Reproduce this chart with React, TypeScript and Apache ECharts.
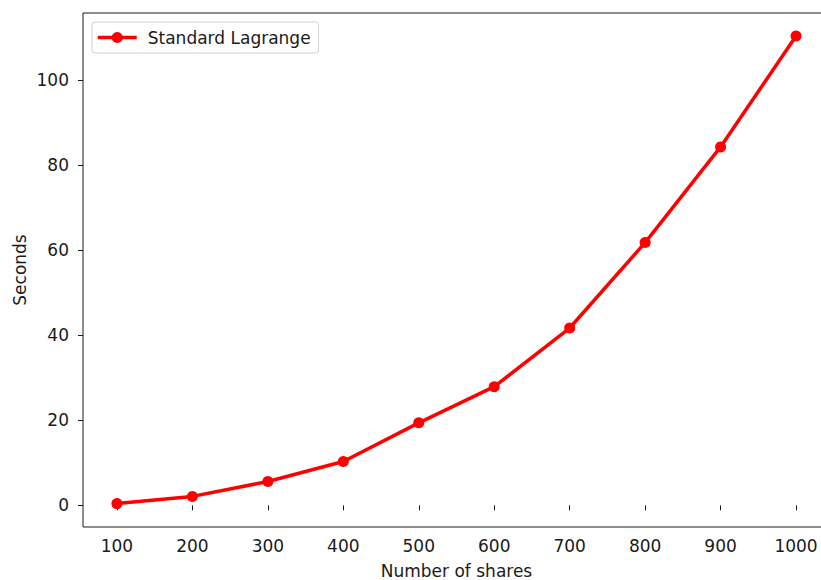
import React, { useEffect, useRef } from "react";
import * as echarts from "echarts";

const shares = [100, 200, 300, 400, 500, 600, 700, 800, 900, 1000];
const seconds = [0.4, 2.1, 5.6, 10.3, 19.4, 27.9, 41.7, 61.8, 84.3, 110.4];
const xTicks = [100, 200, 300, 400, 500, 600, 700, 800, 900, 1000];
const yTicks = [0, 20, 40, 60, 80, 100];
const seriesName = "Standard Lagrange";

const FONT = "DejaVu Sans";
const TXT = "#1a1a1a";

export default function App() {
  const ref = useRef<HTMLDivElement>(null);
  useEffect(() => {
    if (!ref.current) return;
    const chart = echarts.init(ref.current, undefined, { renderer: "svg" });
    chart.setOption({
      animation: false,
      backgroundColor: "#ffffff",
      textStyle: { fontFamily: FONT },
      grid: {
        left: 83,
        top: 13,
        right: 0,
        bottom: 53,
        outerBoundsMode: "none",
        containLabel: false,
        show: true,
        borderColor: "#1a1a1a",
        borderWidth: 1,
        backgroundColor: "transparent",
      },
      legend: {
        left: 92,
        top: 22,
        padding: [7, 8, 7, 4],
        backgroundColor: "#ffffff",
        borderColor: "#d0d0d0",
        borderWidth: 1,
        borderRadius: 3,
        itemWidth: 39,
        itemHeight: 14,
        lineStyle: { width: 3.5, color: "#ff0000" },
        textStyle: { fontFamily: FONT, fontSize: 17, color: TXT, padding: [0, 0, 0, 6] },
        data: [seriesName],
      },
      xAxis: {
        type: "value",
        min: 55,
        max: 1045,
        name: "Number of shares",
        nameLocation: "middle",
        nameGap: 35,
        nameMoveOverlap: false,
        nameTextStyle: { fontFamily: FONT, fontSize: 17, color: TXT },
        axisLine: { show: false },
        axisTick: {
          show: true,
          inside: false,
          length: 5,
          customValues: xTicks,
          lineStyle: { color: "#1a1a1a", width: 1 },
        },
        axisLabel: {
          customValues: xTicks,
          formatter: (v: number) => String(v),
          fontFamily: FONT,
          fontSize: 17,
          color: TXT,
          margin: 10,
        },
        splitLine: { show: false },
      },
      yAxis: {
        type: "value",
        min: -5.1,
        max: 115.8,
        name: "Seconds",
        nameLocation: "middle",
        nameGap: 55,
        nameMoveOverlap: false,
        nameTextStyle: { fontFamily: FONT, fontSize: 17, color: TXT },
        axisLine: { show: false },
        axisTick: {
          show: true,
          inside: false,
          length: 5,
          customValues: yTicks,
          lineStyle: { color: "#1a1a1a", width: 1 },
        },
        axisLabel: {
          customValues: yTicks,
          formatter: (v: number) => String(v),
          fontFamily: FONT,
          fontSize: 17,
          color: TXT,
          margin: 14,
        },
        splitLine: { show: false },
      },
      series: [
        {
          name: seriesName,
          type: "line",
          data: shares.map((s, i) => [s, seconds[i]]),
          symbol: "circle",
          symbolSize: 11,
          itemStyle: { color: "#ff0000" },
          lineStyle: { color: "#ff0000", width: 3.5 },
          clip: false,
        },
      ],
    });
    return () => chart.dispose();
  }, []);
  return (
    <div style={{ width: 821, height: 580, position: "absolute", left: 0, top: 0, overflow: "hidden", background: "#fff" }}>
      <div ref={ref} style={{ width: 830, height: 580 }} />
    </div>
  );
}
